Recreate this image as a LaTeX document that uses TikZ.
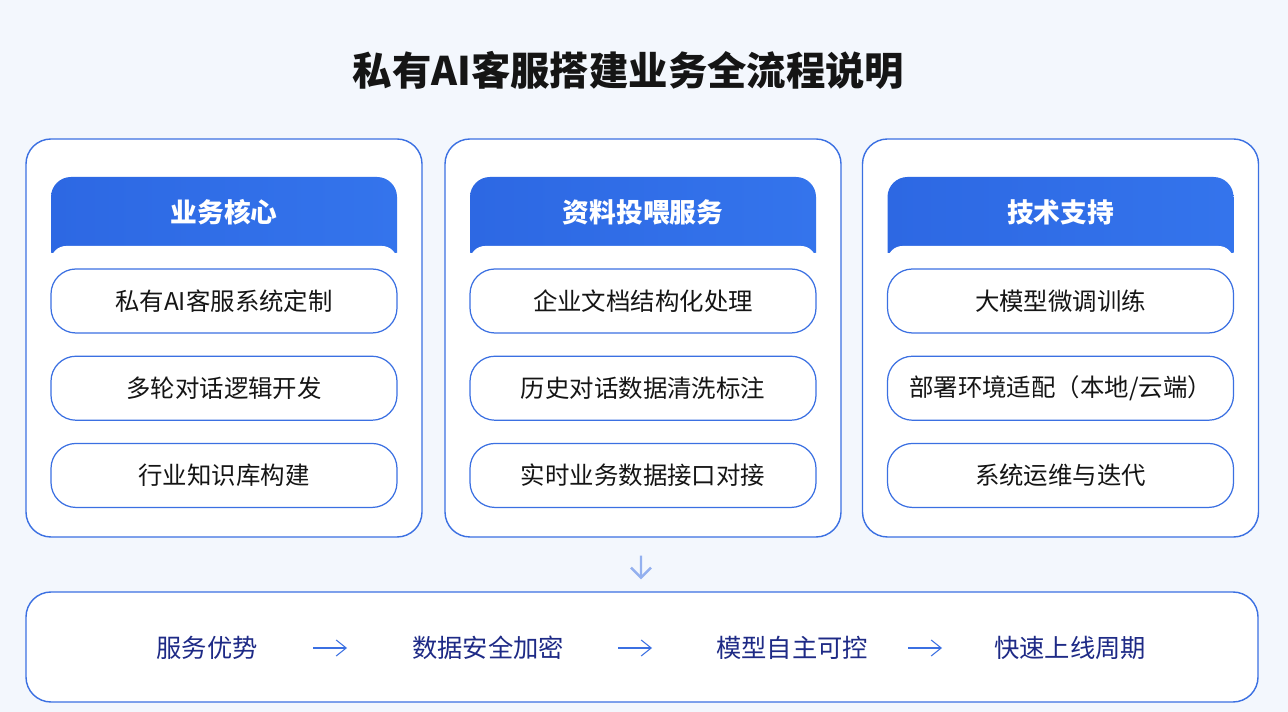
\documentclass[tikz,border=0pt]{standalone}
\usepackage{fontspec}
\setmainfont{Noto Sans CJK SC}
\usetikzlibrary{positioning}
\usetikzlibrary{arrows.meta}
\definecolor{bgblue}{HTML}{F3F7FD}
\definecolor{lineblue}{HTML}{3B70E2}
\definecolor{headblue}{HTML}{2D68E3}
\definecolor{headlight}{HTML}{3474EC}
\definecolor{navy}{HTML}{1E2A86}
\definecolor{inkblack}{HTML}{151515}

\begin{document}
\begin{tikzpicture}[
  panel/.style={draw=lineblue,line width=0.8pt,fill=white,rounded corners=0.5cm,minimum width=7.92cm,minimum height=7.96cm,inner sep=0pt},
  itembox/.style={draw=lineblue,line width=0.7pt,fill=white,rounded corners=0.5cm,minimum width=6.92cm,minimum height=1.28cm,font=\fontsize{13.9}{16}\selectfont,text=inkblack},
  headtext/.style={font=\fontsize{15.2}{18}\selectfont\bfseries,text=white},
  flowtext/.style={font=\fontsize{14.4}{17}\selectfont,text=navy},
  flow/.style={draw=lineblue,line width=0.6pt,-{Straight Barb[length=2mm,width=3.2mm]}}
]
\fill[bgblue] (0,0) rectangle (25.76,14.24);
\node[font=\fontsize{22.4}{26}\selectfont\bfseries,text=inkblack] (title) at (12.57,12.84) {私有AI客服搭建业务全流程说明};

% three columns
\node[panel] (c1) at (4.48,7.48) {};
\node[panel] (c2) at (12.86,7.48) {};
\node[panel] (c3) at (21.21,7.48) {};

\shade[left color=headblue,right color=headlight] (1.02,9.18) -- (1.02,10.3) arc[start angle=180,end angle=90,radius=0.4] -- (7.54,10.7) arc[start angle=90,end angle=0,radius=0.4] -- (7.94,9.18) -- cycle;
\shade[left color=headblue,right color=headlight] (9.40,9.18) -- (9.40,10.3) arc[start angle=180,end angle=90,radius=0.4] -- (15.92,10.7) arc[start angle=90,end angle=0,radius=0.4] -- (16.32,9.18) -- cycle;
\shade[left color=headblue,right color=headlight] (17.75,9.18) -- (17.75,10.3) arc[start angle=180,end angle=90,radius=0.4] -- (24.27,10.7) arc[start angle=90,end angle=0,radius=0.4] -- (24.67,9.18) -- cycle;
\fill[white,rounded corners=0.3cm] (1.02,8.9) rectangle (7.94,9.32);
\fill[white,rounded corners=0.3cm] (9.40,8.9) rectangle (16.32,9.32);
\fill[white,rounded corners=0.3cm] (17.75,8.9) rectangle (24.67,9.32);

\node[headtext] (h1) at (4.48,10.0) {业务核心};
\node[headtext] (h2) at (12.86,10.0) {资料投喂服务};
\node[headtext] (h3) at (21.21,10.0) {技术支持};

\node[itembox] (i11) at (4.48,8.22) {私有AI客服系统定制};
\node[itembox,below=0.44cm of i11] (i12) {多轮对话逻辑开发};
\node[itembox,below=0.44cm of i12] (i13) {行业知识库构建};

\node[itembox] (i21) at (12.86,8.22) {企业文档结构化处理};
\node[itembox,below=0.44cm of i21] (i22) {历史对话数据清洗标注};
\node[itembox,below=0.44cm of i22] (i23) {实时业务数据接口对接};

\node[itembox] (i31) at (21.21,8.22) {大模型微调训练};
\node[itembox,below=0.44cm of i31] (i32) {部署环境适配（本地/云端）};
\node[itembox,below=0.44cm of i32] (i33) {系统运维与迭代};

% bottom flow
\node[panel,minimum width=24.64cm,minimum height=2.2cm] (bar) at (12.84,1.3) {};
\draw[draw=lineblue!55,line width=1.4pt,-{Straight Barb[length=2mm,width=4mm]}] ([xshift=-0.04cm,yshift=-0.36cm]c2.south) -- ([xshift=-0.02cm,yshift=0.24cm]bar.north);

\node[flowtext] (f1) at (4.14,1.28) {服务优势};
\node[flowtext] (f2) at (9.76,1.28) {数据安全加密};
\node[flowtext] (f3) at (15.84,1.28) {模型自主可控};
\node[flowtext] (f4) at (21.40,1.28) {快速上线周期};
\coordinate (a1s) at (6.26,1.28);
\coordinate (a1e) at (6.94,1.28);
\coordinate (a2s) at (12.36,1.28);
\coordinate (a2e) at (13.04,1.28);
\coordinate (a3s) at (18.16,1.28);
\coordinate (a3e) at (18.84,1.28);
\draw[flow] (a1s) -- (a1e);
\draw[flow] (a2s) -- (a2e);
\draw[flow] (a3s) -- (a3e);

\end{tikzpicture}
\end{document}
